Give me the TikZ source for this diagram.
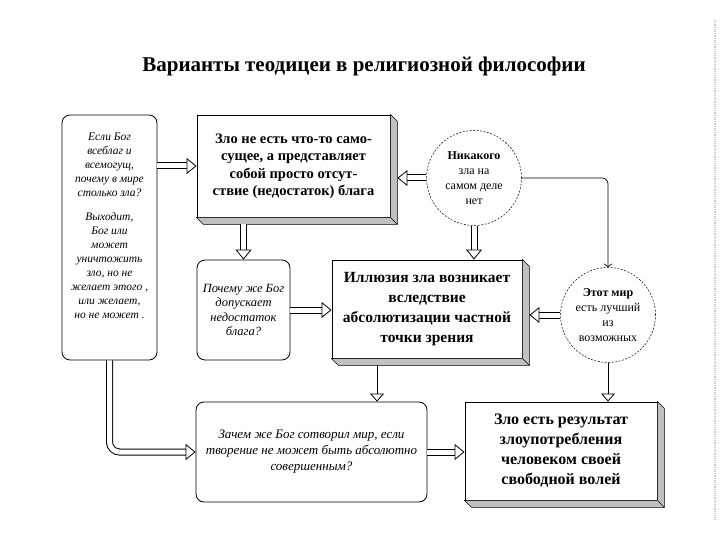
\documentclass[tikz,border=0pt]{standalone}
\usepackage{fontspec}
\setmainfont{Liberation Serif}
\usetikzlibrary{arrows.meta,positioning,calc}
\definecolor{bevelgray}{RGB}{192,192,192}
\definecolor{edgegray}{RGB}{200,200,200}

% 3D edge on the right and bottom of a thesis box
\newcommand{\bevel}[1]{%
  \filldraw[bevelgray,draw=black,line width=0.5pt] (#1.north east) -- ++(7,7)
    -- ([shift={(7,7)}]#1.south east) -- ([shift={(7,7)}]#1.south west)
    -- (#1.south west) -- (#1.south east) -- cycle;
  \draw[line width=0.5pt] (#1.south east) -- ++(7,7);}

\begin{document}
\begin{tikzpicture}[
    x=1pt,y=-1pt,
    qbox/.style={draw,line width=0.8pt,rounded corners=8pt,fill=white,inner sep=2pt,align=center,
      font=\fontsize{11.5}{14}\selectfont\itshape},
    tbox/.style={draw,line width=0.9pt,fill=white,inner sep=2pt,align=center,
      font=\fontsize{14.5}{17.5}\selectfont\bfseries},
    idea/.style={circle,draw,line width=0.5pt,dash pattern=on 2pt off 1.5pt,inner sep=0pt,
      minimum size=95pt,align=center,font=\fontsize{12}{15}\selectfont},
    hollow/.style={draw=black,line width=1pt,double=white,double distance=5pt,
      -{Triangle[open,line width=0.8pt 0 0,length=10pt 0 0,width=16pt 0 0]}},
    slim/.style={line width=0.9pt,-{Triangle[open,line width=0.8pt 0 0,length=8pt 0 0,width=14pt 0 0]}},
    link/.style={line width=0.7pt,rounded corners=6pt,-{Straight Barb[length=3pt,width=8pt]}}
]
\useasboundingbox (0,0) rectangle (720,540);

\node[font=\fontsize{21}{24}\selectfont\bfseries] (title) at (364,66) {Варианты теодицеи в религиозной философии};

\node[qbox,minimum width=95pt,minimum height=245pt] (ask) at (109.5,237.5)
  {Если Бог\\всеблаг и\\всемогущ,\\почему в мире\\столько зла?\\[10pt]Выходит,\\Бог или\\может\\уничтожить\\зло, но не\\желает этого ,\\или желает,\\но не может .\\[10pt]};
\node[tbox,minimum width=193pt,minimum height=102pt] (lack) at (293.5,166)
  {Зло не есть что-то само-\\сущее, а представляет\\собой просто отсут-\\ствие (недостаток) блага};
\node[idea] (none) at (474,178) {\textbf{Никакого}\\зла на\\самом деле\\нет};
\node[qbox,minimum width=93pt,minimum height=100pt,font=\fontsize{12.5}{14.5}\selectfont\itshape] (why) at (243.5,310)
  {Почему же Бог\\допускает\\недостаток\\блага?};
\node[tbox,minimum width=190pt,minimum height=98pt,font=\fontsize{15.5}{20}\selectfont\bfseries] (illusion) at (427,309)
  {Иллюзия зла возникает\\вследствие\\абсолютизации частной\\точки зрения};
\node[idea] (best) at (608,315) {\textbf{Этот мир}\\есть лучший\\из\\возможных};
\node[qbox,minimum width=231pt,minimum height=100pt,font=\fontsize{13}{16}\selectfont\itshape] (create) at (311.5,452)
  {Зачем же Бог сотворил мир, если\\творение не может быть абсолютно\\совершенным?};
\node[tbox,minimum width=192pt,minimum height=98pt,font=\fontsize{16}{20}\selectfont\bfseries] (abuse) at (561,451)
  {Зло есть результат\\злоупотребления\\человеком своей\\свободной волей};

\bevel{lack}
\bevel{illusion}
\bevel{abuse}

% connectors
\draw[hollow] (ask.east |- lack.west) -- (lack.west);
\draw[hollow,rounded corners=10pt] (ask.south) |- (create.west);
\draw[hollow] (none.west) -- ($(lack.east |- none.west)+(7,0)$);
\draw[hollow] ($(why.north |- lack.south)+(0,7)$) -- (why.north);
\draw[hollow] (why.east) -- (illusion.west |- why.east);
\draw[hollow] (none.south) -- (illusion.north -| none.south);
\draw[hollow] (best.west) -- ($(illusion.east |- best.west)+(7,0)$);
\draw[hollow] (create.east) -- (abuse.west |- create.east);
\coordinate (drop) at ([xshift=-50pt]illusion.south);
\draw[slim] ($(drop)+(0,7)$) -- (drop |- create.north);
\draw[slim] (best.south) -- (best.south |- abuse.north);
\draw[link] (none.east) -| (best.north);

% page edge
\draw[edgegray,densely dotted,line width=1.2pt] (715,20) -- (715,520);
\end{tikzpicture}
\end{document}
